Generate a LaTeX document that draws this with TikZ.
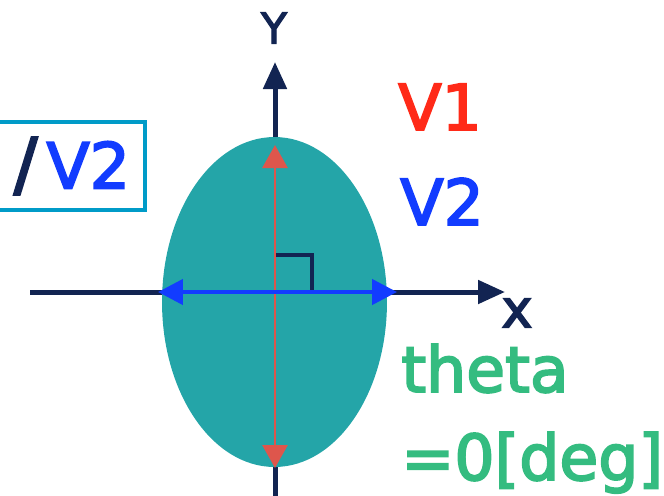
\documentclass[tikz,border=0pt]{standalone}
\usepackage{fontspec}
\setmainfont{DejaVu Sans}
\definecolor{ovteal}{RGB}{36,165,168}
\definecolor{ovnavy}{RGB}{18,36,82}
\definecolor{ovred}{RGB}{222,86,76}
\definecolor{ovblue}{RGB}{18,60,255}
\definecolor{ovlabred}{RGB}{255,42,24}
\definecolor{ovgreen}{RGB}{52,188,128}
\definecolor{ovframe}{RGB}{0,155,200}
\usetikzlibrary{arrows.meta,shapes.geometric}

\begin{document}
\begin{tikzpicture}[x=0.02cm, y=-0.02cm]
  \useasboundingbox (0,0) rectangle (664,495);

  %--- Axes ---
  \coordinate (xleft) at (30,292);
  \coordinate (xright) at (505,292);
  \coordinate (ybottom) at (275,500);
  \coordinate (ytop) at (275,62);
  \draw[-{Triangle[length=0.54cm, width=0.46cm]}, line width=0.1cm, ovnavy] (xleft) -- (xright);
  \draw[-{Triangle[length=0.54cm, width=0.46cm]}, line width=0.1cm, ovnavy] (ybottom) -- (ytop);
  \node[font=\fontsize{24}{26}\selectfont\addfontfeatures{FakeBold=3}, text=ovnavy, inner sep=0pt] (ylab) at (274,28) {Y};
  \node[font=\fontsize{30}{32}\selectfont\addfontfeatures{FakeBold=3}, text=ovnavy, inner sep=0pt] (xlab) at (517,313) {x};

  %--- Ellipse ---
  \node[ellipse, fill=ovteal, minimum width=4.5cm, minimum height=6.6cm, inner sep=0pt] (oval) at (274.5,302) {};

  % V1 along the long axis
  \coordinate (v1top) at (275,145);
  \coordinate (v1bot) at (275,468);
  \draw[{Triangle[length=0.46cm, width=0.5cm]}-{Triangle[length=0.46cm, width=0.5cm]}, line width=0.06cm, ovred] (v1top) -- (v1bot);

  % V2 along the short axis
  \coordinate (v2left) at (158,292);
  \coordinate (v2right) at (397,292);
  \draw[{Triangle[length=0.5cm, width=0.5cm]}-{Triangle[length=0.5cm, width=0.5cm]}, line width=0.09cm, ovblue] (v2left) -- (v2right);

  % right angle
  \draw[line width=0.08cm, ovnavy] (276,255) -- (312,255) -- (312,290);

  %--- Labels ---
  \node[font=\fontsize{36}{40}\selectfont\addfontfeatures{FakeBold=3}, text=ovlabred, anchor=base west, inner sep=0pt] (v1lab) at (398,130) {V1};
  \node[font=\fontsize{36}{40}\selectfont\addfontfeatures{FakeBold=3}, text=ovblue, anchor=base west, inner sep=0pt] (v2lab) at (400,225) {V2};
  \node[font=\fontsize{36}{40}\selectfont\addfontfeatures{FakeBold=3}, text=ovgreen, anchor=base west, inner sep=0pt] (thlab) at (401,392) {theta};
  \node[font=\fontsize{36}{40}\selectfont\addfontfeatures{FakeBold=3}, text=ovgreen, anchor=base west, inner sep=0pt] (deglab) at (401,480) {=0[deg]};

  % framed tag, cut at the left edge
  \node[draw=ovframe, line width=0.08cm, anchor=east, text width=2.6cm, inner xsep=0.3cm, minimum height=1.76cm, align=right, font=\fontsize{36}{38}\selectfont\addfontfeatures{FakeBold=3}, text=ovblue] (tag) at (147,166) {\textcolor{ovnavy}{\fontsize{40}{40}\selectfont/}\kern0.18cm V2};
\end{tikzpicture}
\end{document}
